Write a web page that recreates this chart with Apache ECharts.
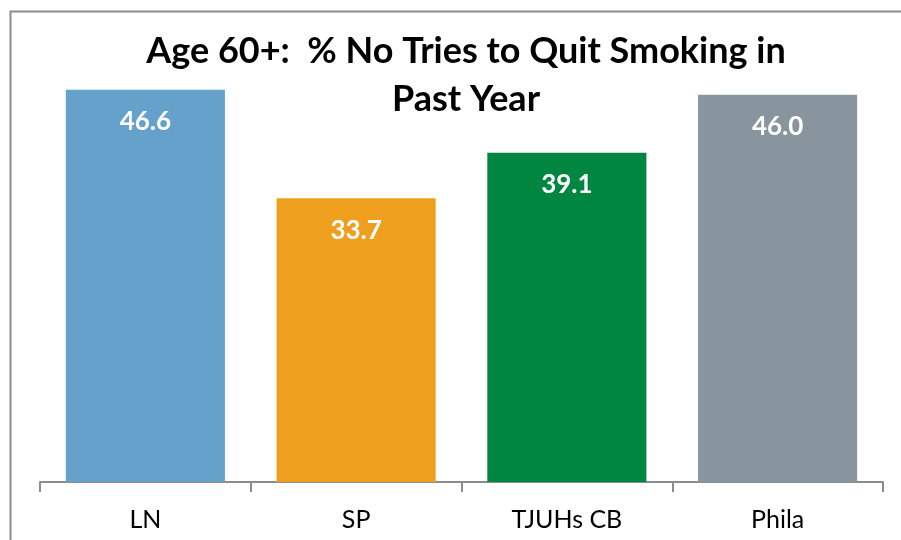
<!DOCTYPE html>
<html><head><meta charset="utf-8">
<script src="https://cdn.jsdelivr.net/npm/echarts@6/dist/echarts.min.js"></script>
<style>html,body{margin:0;padding:0;background:#fff}#c{width:901px;height:540px}</style>
</head><body><div id="c"></div>
<script>
const categories = ['LN', 'SP', 'TJUHs CB', 'Phila'];
const values = [46.6, 33.7, 39.1, 46.0];
const barColors = ['#65A1CA', '#EE9F1E', '#008641', '#89959E'];
const titleText = 'Age 60+:  % No Tries to Quit Smoking in\nPast Year';

const chart = echarts.init(document.getElementById('c'));
chart.setOption({
  animation: false,
  backgroundColor: '#fff',
  graphic: [{
    type: 'rect', shape: {x: 10.5, y: 11.5, width: 1000, height: 1000},
    style: {fill: 'none', stroke: '#8c8c8c', lineWidth: 2}, silent: true, z: -1
  }],
  title: {
    text: titleText, left: 461, top: 22, textAlign: 'center',
    textStyle: {fontFamily: 'Lato', fontWeight: 'bold', fontSize: 36, color: '#000', lineHeight: 48}
  },
  grid: {left: 40, right: 18, top: 61, bottom: 58},
  xAxis: {
    type: 'category', data: categories,
    axisLine: {lineStyle: {color: '#8c8c8c', width: 2}},
    axisTick: {show: true, length: 10, lineStyle: {color: '#8c8c8c', width: 2}},
    axisLabel: {fontFamily: 'Lato', fontSize: 25, color: '#000', margin: 25}
  },
  yAxis: {type: 'value', min: 0, max: 50, show: false, splitLine: {show: false}},
  series: [{
    type: 'bar', barWidth: '75.5%',
    data: values.map((v, i) => ({value: v, itemStyle: {color: barColors[i]}})),
    label: {
      show: true, position: 'insideTop', distance: 19,
      formatter: p => p.value.toFixed(1),
      fontFamily: 'Lato', fontWeight: 'bold', fontSize: 26, color: '#fff'
    }
  }]
});
</script></body></html>
